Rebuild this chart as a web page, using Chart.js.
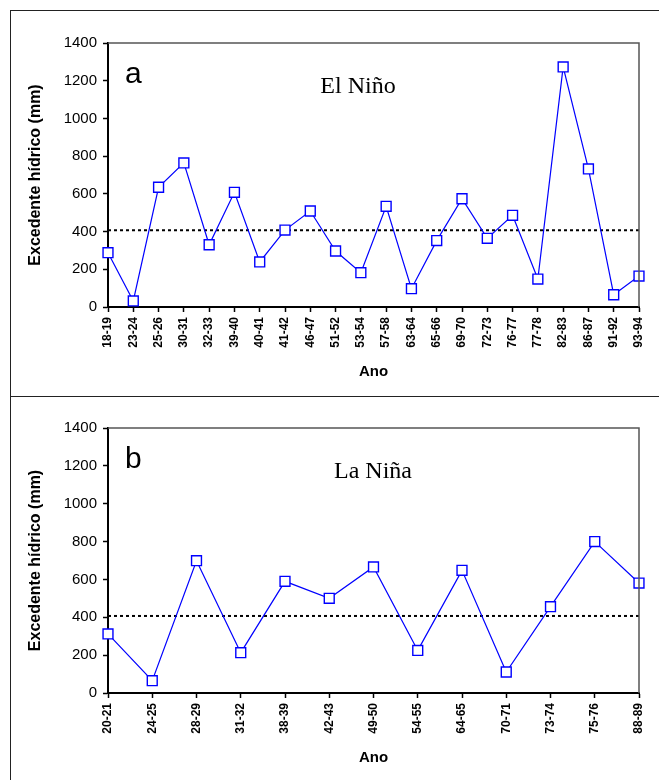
<!DOCTYPE html>
<html>
<head>
<meta charset="utf-8">
<script src="https://cdn.jsdelivr.net/npm/chart.js@4.4.0/dist/chart.umd.min.js"></script>
<style>
body { margin:0; background:#fff; width:659px; height:780px; overflow:hidden; position:relative; }
#frame { position:absolute; left:10px; top:10px; width:660px; height:790px; border-left:1px solid #222; border-top:1px solid #222; }
#divider { position:absolute; left:10px; top:396px; width:660px; height:0; border-top:1px solid #222; }
canvas { position:absolute; left:0; }
</style>
</head>
<body>
<div id="frame"></div>
<div id="divider"></div>
<canvas id="chartA" width="659" height="396" style="top:0"></canvas>
<canvas id="chartB" width="659" height="384" style="top:396px"></canvas>
<script>

// El Niño years
const ninoYears = ["18-19","23-24","25-26","30-31","32-33","39-40","40-41","41-42","46-47","51-52","53-54","57-58","63-64","65-66","69-70","72-73","76-77","77-78","82-83","86-87","91-92","93-94"];
const ninoValues = [288, 32, 635, 764, 330, 608, 239, 408, 509, 297, 182, 534, 97, 352, 574, 364, 486, 148, 1273, 732, 65, 164];

// La Niña years
const ninaYears = ["20-21","24-25","28-29","31-32","38-39","42-43","49-50","54-55","64-65","70-71","73-74","75-76","88-89"];
const ninaValues = [312, 65, 699, 213, 590, 500, 666, 225, 648, 111, 456, 800, 581];

const meanValue = 407;
const yTicks = [0, 200, 400, 600, 800, 1000, 1200, 1400];

const sans = "'Liberation Sans', Arial, sans-serif";
const serif = "'Liberation Serif', 'Times New Roman', serif";

// dotted mean line + frame + panel labels
const extras = {
    id: "extras",
    beforeDatasetsDraw(chart, args, opts){
        const ctx = chart.ctx;
        const area = chart.chartArea;
        const y = chart.scales.y.getPixelForValue(meanValue);
        ctx.save();
        ctx.strokeStyle = "#000";
        ctx.lineWidth = 2;
        ctx.setLineDash([3, 3]);
        ctx.beginPath();
        ctx.moveTo(area.left, y);
        ctx.lineTo(area.right, y);
        ctx.stroke();
        ctx.restore();
    },
    afterDraw(chart, args, opts){
        const ctx = chart.ctx;
        const area = chart.chartArea;
        ctx.save();
        ctx.strokeStyle = "#555";
        ctx.lineWidth = 1.5;
        ctx.beginPath();
        ctx.moveTo(area.left, area.top);
        ctx.lineTo(area.right, area.top);
        ctx.lineTo(area.right, area.bottom);
        ctx.stroke();

        ctx.fillStyle = "#000";
        ctx.textBaseline = "alphabetic";
        ctx.textAlign = "left";
        ctx.font = "30px " + sans;
        ctx.fillText(opts.letter, area.left + 17, area.top + 40);
        ctx.textAlign = "center";
        ctx.font = "24px " + serif;
        ctx.fillText(opts.name, opts.nameX, area.top + 50);
        ctx.restore();
    }
};

function makeChart(id, labels, values, letter, name, nameX, padTop, padBottom){
    const ctx = document.getElementById(id).getContext("2d");
    return new Chart(ctx, {
        type: "line",
        data: {
            labels: labels,
            datasets: [{
                data: values,
                borderColor: "#0000ff",
                borderWidth: 1.2,
                backgroundColor: "#fff",
                pointStyle: "rect",
                pointRadius: 7,
                pointBorderWidth: 1.4,
                pointBorderColor: "#0000ff",
                pointBackgroundColor: "#fff",
                tension: 0,
                fill: false,
                clip: false
            }]
        },
        options: {
            responsive: false,
            devicePixelRatio: 1,
            animation: false,
            events: [],
            layout: { padding: { top: padTop, right: 20, bottom: padBottom, left: 0 } },
            plugins: {
                legend: { display: false },
                tooltip: { enabled: false },
                extras: { letter: letter, name: name, nameX: nameX }
            },
            scales: {
                x: {
                    type: "category",
                    offset: false,
                    afterFit(scale){ scale.height = 75; },
                    grid: { drawOnChartArea: false, drawTicks: true, tickLength: 5, tickColor: "#000", tickWidth: 1.5 },
                    border: { color: "#000", width: 2 },
                    ticks: {
                        autoSkip: false, minRotation: 90, maxRotation: 90, padding: 5,
                        color: "#000", font: { family: sans, size: 12, weight: "bold" }
                    },
                    title: {
                        display: true, text: "Ano", color: "#000",
                        font: { family: sans, size: 15, weight: "bold" },
                        padding: { top: 0, bottom: 1 }
                    }
                },
                y: {
                    min: 0, max: 1400,
                    afterFit(scale){ scale.width = 108; },
                    afterBuildTicks(scale){ scale.ticks = yTicks.map(v => ({ value: v })); },
                    grid: { drawOnChartArea: false, drawTicks: true, tickLength: 5, tickColor: "#000", tickWidth: 1.5 },
                    border: { color: "#000", width: 2 },
                    ticks: {
                        padding: 6, color: "#000", font: { family: sans, size: 15 },
                        callback: v => String(v)
                    },
                    title: {
                        display: true, text: "Excedente hídrico (mm)", color: "#000",
                        font: { family: sans, size: 16, weight: "bold" },
                        padding: { top: 26, bottom: 0 }
                    }
                }
            }
        },
        plugins: [extras]
    });
}

makeChart("chartA", ninoYears, ninoValues, "a", "El Niño", 358, 43, 14);
makeChart("chartB", ninaYears, ninaValues, "b", "La Niña", 373, 32, 12);

</script>
</body>
</html>
